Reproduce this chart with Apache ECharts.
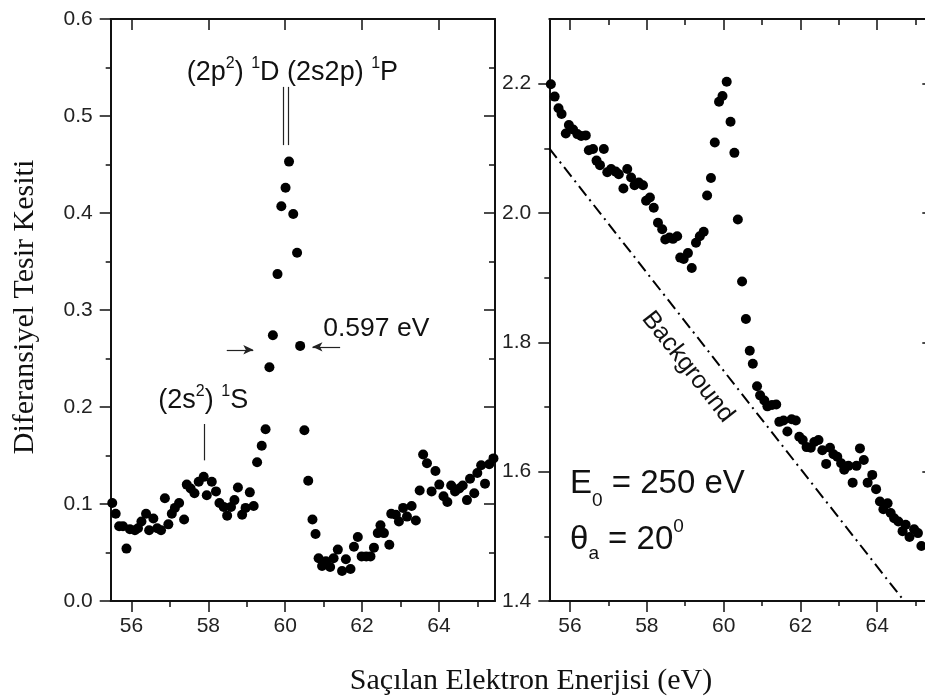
<!DOCTYPE html>
<html>
<head>
<meta charset="utf-8">
<script src="https://cdn.jsdelivr.net/npm/echarts@6/dist/echarts.min.js"></script>
<style>
  html, body { margin: 0; padding: 0; background: #fff; }
  #chart { width: 925px; height: 700px; }
</style>
</head>
<body>
<div id="chart"></div>
<script>
// Left panel: resonance spectrum (background subtracted)
const energyLeft = [55.50,55.59,55.68,55.78,55.87,55.96,56.09,56.17,56.26,56.38,56.46,56.57,56.67,56.77,56.87,56.96,57.05,57.13,57.24,57.37,57.44,57.54,57.64,57.75,57.88,57.96,58.09,58.20,58.29,58.40,58.49,58.59,58.68,58.77,58.88,58.97,59.08,59.18,59.27,59.39,59.49,59.59,59.68,59.80,59.90,60.01,60.10,60.21,60.31,60.39,60.50,60.60,60.71,60.79,60.87,60.96,61.06,61.17,61.26,61.37,61.48,61.58,61.70,61.79,61.89,61.99,62.11,62.22,62.31,62.41,62.48,62.57,62.71,62.76,62.88,62.96,63.07,63.17,63.29,63.40,63.50,63.59,63.69,63.81,63.91,64.01,64.12,64.22,64.32,64.42,64.53,64.62,64.73,64.81,64.92,65.00,65.10,65.20,65.31,65.42];
const crossLeft = [0.101,0.090,0.077,0.077,0.054,0.074,0.073,0.075,0.082,0.090,0.073,0.085,0.075,0.073,0.106,0.079,0.090,0.096,0.101,0.084,0.120,0.116,0.111,0.123,0.128,0.109,0.123,0.113,0.101,0.097,0.088,0.097,0.104,0.117,0.089,0.096,0.112,0.098,0.143,0.160,0.177,0.241,0.274,0.337,0.407,0.426,0.453,0.399,0.359,0.263,0.176,0.124,0.084,0.069,0.044,0.036,0.041,0.035,0.044,0.053,0.031,0.043,0.033,0.056,0.066,0.046,0.046,0.046,0.055,0.070,0.078,0.070,0.058,0.090,0.089,0.082,0.096,0.087,0.098,0.083,0.114,0.151,0.142,0.113,0.134,0.120,0.108,0.102,0.119,0.113,0.116,0.119,0.104,0.126,0.111,0.132,0.140,0.121,0.141,0.147];

// Right panel: raw spectrum with the background estimate
const energyRight = [55.50,55.60,55.70,55.78,55.89,55.97,56.08,56.19,56.29,56.41,56.49,56.60,56.69,56.78,56.88,56.97,57.07,57.19,57.27,57.39,57.49,57.59,57.68,57.79,57.90,57.98,58.08,58.18,58.29,58.40,58.48,58.59,58.68,58.79,58.87,58.96,59.07,59.17,59.28,59.38,59.48,59.57,59.67,59.77,59.88,59.97,60.08,60.18,60.28,60.37,60.48,60.58,60.68,60.76,60.87,60.95,61.06,61.14,61.26,61.37,61.45,61.56,61.66,61.77,61.88,61.97,62.06,62.16,62.27,62.36,62.47,62.57,62.67,62.77,62.86,62.96,63.06,63.14,63.25,63.36,63.46,63.55,63.65,63.75,63.87,63.97,64.07,64.16,64.27,64.35,64.44,64.55,64.66,64.74,64.84,64.96,65.06,65.15];
const crossRight = [2.199,2.180,2.162,2.153,2.123,2.136,2.129,2.122,2.119,2.120,2.097,2.099,2.081,2.074,2.099,2.063,2.068,2.064,2.060,2.038,2.068,2.055,2.043,2.047,2.043,2.019,2.024,2.008,1.985,1.975,1.959,1.962,1.960,1.964,1.931,1.929,1.938,1.915,1.954,1.964,1.971,2.027,2.054,2.109,2.172,2.181,2.203,2.141,2.093,1.990,1.894,1.836,1.787,1.767,1.732,1.718,1.710,1.701,1.703,1.704,1.677,1.679,1.662,1.681,1.679,1.654,1.649,1.638,1.637,1.646,1.649,1.633,1.612,1.637,1.627,1.623,1.613,1.603,1.609,1.583,1.609,1.636,1.618,1.583,1.595,1.573,1.554,1.542,1.551,1.536,1.528,1.523,1.508,1.518,1.499,1.511,1.505,1.485];

const backgroundEnergy = [55.46, 64.70];
const backgroundCross = [2.10, 1.40];

// Axis ticks and ranges
const energyRange = [55.46, 65.46];
const energyMajorTicks = [56, 58, 60, 62, 64];
const energyMinorTicks = [57, 59, 61, 63, 65];
const leftRange = [0, 0.6];
const leftMajorTicks = [0, 0.1, 0.2, 0.3, 0.4, 0.5, 0.6];
const leftMinorTicks = [0.05, 0.15, 0.25, 0.35, 0.45, 0.55];
const rightRange = [1.4, 2.3];
const rightMajorTicks = [1.4, 1.6, 1.8, 2.0, 2.2];
const rightMinorTicks = [1.5, 1.7, 1.9, 2.1];

// Annotation anchors (data coordinates)
const stateS = { x: 57.89, y: [0.145, 0.1825] };
const stateD = { x: 59.94, y: [0.47, 0.53] };
const stateP = { x: 60.07, y: [0.47, 0.53] };
const widthArrowIn = { x: [58.48, 59.17], y: 0.259 };
const widthArrowOut = { x: [61.43, 60.71], y: 0.262 };

const SANS = '"Liberation Sans", Arial, sans-serif';
const SERIF = '"Liberation Serif", "Times New Roman", serif';
const INK = '#111';

const zip = (xs, ys) => xs.map((x, i) => [x, ys[i]]);

function energyAxes(gridIndex) {
  const base = { type: 'value', gridIndex, min: energyRange[0], max: energyRange[1], splitLine: { show: false } };
  const line = { show: true, onZero: false, lineStyle: { color: INK, width: 2 } };
  const tickStyle = { color: INK, width: 1.5 };
  return [
    Object.assign({}, base, {
      position: 'bottom', axisLine: line,
      axisTick: { show: true, inside: false, length: 11, customValues: energyMajorTicks, lineStyle: tickStyle },
      axisLabel: { show: true, customValues: energyMajorTicks, margin: 15, fontSize: 21, color: '#222', fontFamily: SANS }
    }),
    Object.assign({}, base, {
      position: 'bottom', axisLine: { show: false },
      axisTick: { show: true, inside: false, length: 5, customValues: energyMinorTicks, lineStyle: tickStyle },
      axisLabel: { show: false }
    }),
    Object.assign({}, base, {
      position: 'top', axisLine: line,
      axisTick: { show: true, inside: true, length: 11, customValues: energyMajorTicks, lineStyle: tickStyle },
      axisLabel: { show: false }
    }),
    Object.assign({}, base, {
      position: 'top', axisLine: { show: false },
      axisTick: { show: true, inside: true, length: 6, customValues: energyMinorTicks, lineStyle: tickStyle },
      axisLabel: { show: false }
    })
  ];
}

function crossAxes(gridIndex, range, major, minor) {
  const base = { type: 'value', gridIndex, min: range[0], max: range[1], splitLine: { show: false } };
  const line = { show: true, onZero: false, lineStyle: { color: INK, width: 2 } };
  const tickStyle = { color: INK, width: 1.5 };
  return [
    Object.assign({}, base, {
      position: 'left', axisLine: line,
      axisTick: { show: true, inside: false, length: 11, customValues: major, lineStyle: tickStyle },
      axisLabel: { show: true, customValues: major, margin: 18, fontSize: 21, color: '#222', fontFamily: SANS,
                   formatter: v => Number(v).toFixed(1) }
    }),
    Object.assign({}, base, {
      position: 'left', axisLine: { show: false },
      axisTick: { show: true, inside: false, length: 5, customValues: minor, lineStyle: tickStyle },
      axisLabel: { show: false }
    }),
    Object.assign({}, base, {
      position: 'right', axisLine: line,
      axisTick: { show: true, inside: true, length: 11, customValues: major, lineStyle: tickStyle },
      axisLabel: { show: false }
    }),
    Object.assign({}, base, {
      position: 'right', axisLine: { show: false },
      axisTick: { show: true, inside: true, length: 6, customValues: minor, lineStyle: tickStyle },
      axisLabel: { show: false }
    })
  ];
}

const chart = echarts.init(document.getElementById('chart'), null, { renderer: 'canvas' });

const arrowEnd = { symbol: 'arrow', symbolSize: [7, 10] };

chart.setOption({
  animation: false,
  backgroundColor: '#fff',
  grid: [
    { left: 110.7, top: 19, width: 384.3, height: 582, outerBoundsMode: 'none', containLabel: false },
    { left: 549.3, top: 19, width: 384, height: 582, outerBoundsMode: 'none', containLabel: false }
  ],
  xAxis: energyAxes(0).concat(energyAxes(1)),
  yAxis: crossAxes(0, leftRange, leftMajorTicks, leftMinorTicks)
           .concat(crossAxes(1, rightRange, rightMajorTicks, rightMinorTicks)),
  series: [
    {
      type: 'scatter', xAxisIndex: 0, yAxisIndex: 0,
      data: zip(energyLeft, crossLeft),
      symbol: 'circle', symbolSize: 10,
      itemStyle: { color: '#000', opacity: 1 },
      markLine: {
        silent: true, symbol: 'none', label: { show: false },
        lineStyle: { color: '#222', width: 1.2, type: 'solid' },
        emphasis: { disabled: true },
        data: [
          [{ coord: [stateS.x, stateS.y[0]] }, { coord: [stateS.x, stateS.y[1]] }],
          [{ coord: [stateD.x, stateD.y[0]] }, { coord: [stateD.x, stateD.y[1]] }],
          [{ coord: [stateP.x, stateP.y[0]] }, { coord: [stateP.x, stateP.y[1]] }],
          [{ coord: [widthArrowIn.x[0], widthArrowIn.y] }, Object.assign({ coord: [widthArrowIn.x[1], widthArrowIn.y] }, arrowEnd)],
          [{ coord: [widthArrowOut.x[0], widthArrowOut.y] }, Object.assign({ coord: [widthArrowOut.x[1], widthArrowOut.y] }, arrowEnd)]
        ]
      }
    },
    {
      type: 'scatter', xAxisIndex: 4, yAxisIndex: 4,
      data: zip(energyRight, crossRight),
      symbol: 'circle', symbolSize: 10,
      itemStyle: { color: '#000', opacity: 1 }
    },
    {
      type: 'line', xAxisIndex: 4, yAxisIndex: 4,
      data: zip(backgroundEnergy, backgroundCross),
      symbol: 'none',
      lineStyle: { color: '#000', width: 2, type: [12, 5, 2, 5] }
    }
  ]
});

// Text annotations placed from data coordinates
const L = { xAxisIndex: 0, yAxisIndex: 0 };
const R = { xAxisIndex: 4, yAxisIndex: 4 };
const px = (sys, x, y) => chart.convertToPixel(sys, [x, y]);

const pDP = px(L, 57.44, 0.545);
const pS = px(L, 56.70, 0.207);
const pW = px(L, 60.99, 0.281);
const pE = px(R, 56.0, 1.541);
const pT = px(R, 56.0, 1.459);
const pB = px(R, 59.07, 1.762);
const b0 = px(R, backgroundEnergy[0], backgroundCross[0]);
const b1 = px(R, backgroundEnergy[1], backgroundCross[1]);
const bgAngle = Math.atan2(b1[1] - b0[1], b1[0] - b0[0]);

const supStyle = { fontSize: 16, lineHeight: 15, verticalAlign: 'top', fontFamily: SANS, fill: '#111' };
const mainStyle = (size) => ({ fontSize: size, lineHeight: size + 6, fontFamily: SANS, fill: '#111' });

chart.setOption({
  graphic: [
    {
      type: 'text', x: pDP[0], y: pDP[1], silent: true,
      style: {
        text: '{m|(2p}{s|2}{m|) }{s|1}{m|D (2s2p) }{s|1}{m|P}',
        align: 'left', verticalAlign: 'middle',
        rich: { m: mainStyle(27), s: supStyle }
      }
    },
    {
      type: 'text', x: pS[0], y: pS[1], silent: true,
      style: {
        text: '{m|(2s}{s|2}{m|) }{s|1}{m|S}',
        align: 'left', verticalAlign: 'middle',
        rich: { m: mainStyle(27), s: supStyle }
      }
    },
    {
      type: 'text', x: pW[0], y: pW[1], silent: true,
      style: { text: '0.597 eV', fontSize: 26.5, fontFamily: SANS, fill: '#111', align: 'left', verticalAlign: 'middle' }
    },
    {
      type: 'text', x: pE[0], y: pE[1], silent: true,
      style: {
        text: '{m|E}{b|0}{m| = 250 eV}',
        align: 'left', verticalAlign: 'bottom',
        rich: {
          m: { fontSize: 33, lineHeight: 42, verticalAlign: 'top', fontFamily: SANS, fill: '#111' },
          b: { fontSize: 19, lineHeight: 19, verticalAlign: 'bottom', fontFamily: SANS, fill: '#111' }
        }
      }
    },
    {
      type: 'text', x: pT[0], y: pT[1], silent: true,
      style: {
        text: '{m|θ}{b|a}{m| = 20}{s|0}',
        align: 'left', verticalAlign: 'bottom',
        rich: {
          m: { fontSize: 33, lineHeight: 46, verticalAlign: 'middle', fontFamily: SANS, fill: '#111' },
          b: { fontSize: 19, lineHeight: 19, verticalAlign: 'bottom', fontFamily: SANS, fill: '#111' },
          s: { fontSize: 19, lineHeight: 22, verticalAlign: 'top', fontFamily: SANS, fill: '#111' }
        }
      }
    },
    {
      type: 'text', x: pB[0], y: pB[1], rotation: -bgAngle, silent: true,
      style: { text: 'Background', fontSize: 25, fontFamily: SANS, fill: '#111', align: 'center', verticalAlign: 'middle' }
    },
    {
      type: 'text', x: 25, y: 307, rotation: Math.PI / 2, silent: true,
      style: { text: 'Diferansiyel Tesir Kesiti', fontSize: 30, fontFamily: SERIF, fill: '#111', align: 'center', verticalAlign: 'middle' }
    },
    {
      type: 'text', x: 531, y: 681, silent: true,
      style: { text: 'Saçılan Elektron Enerjisi (eV)', fontSize: 30, fontFamily: SERIF, fill: '#111', align: 'center', verticalAlign: 'middle' }
    }
  ]
});
</script>
</body>
</html>
